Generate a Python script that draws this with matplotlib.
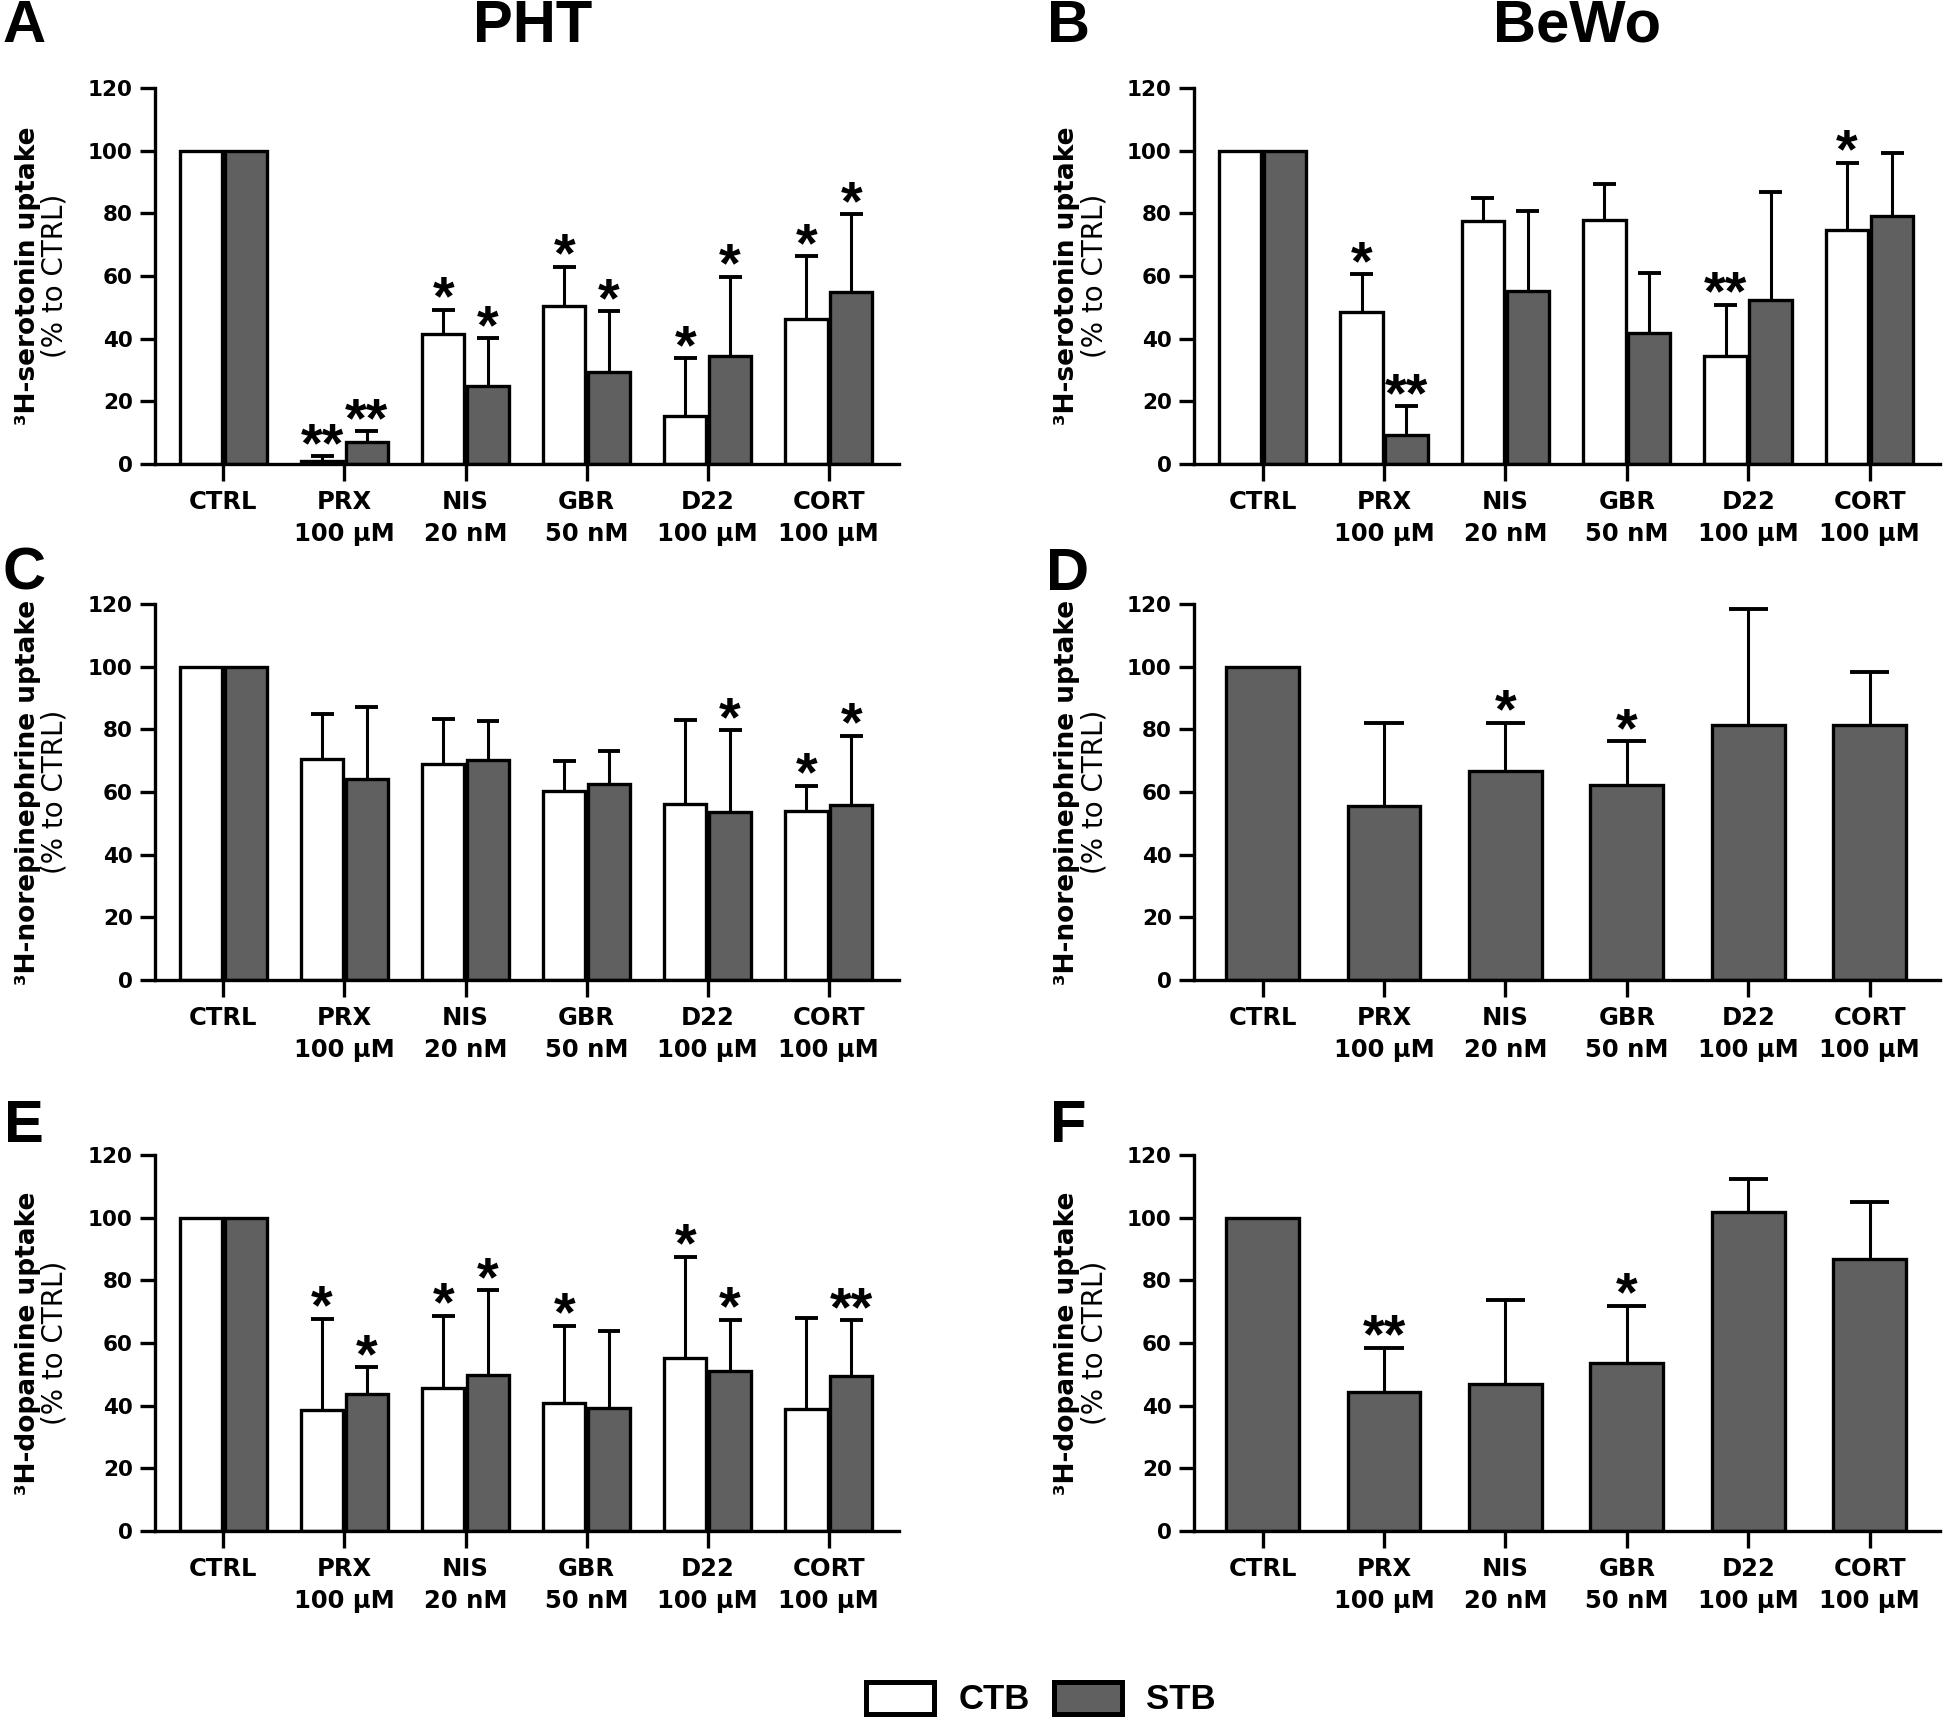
import matplotlib
matplotlib.use("Agg")
import matplotlib.pyplot as plt
import numpy as np
from matplotlib.patches import Patch

plt.rcParams['font.family'] = ['Liberation Sans', 'DejaVu Sans']
plt.rcParams['font.weight'] = 'bold'
WIDE = ['DejaVu Sans']

categories = ['CTRL', 'PRX\n100 µM', 'NIS\n20 nM', 'GBR\n50 nM', 'D22\n100 µM', 'CORT\n100 µM']

# Panel A: PHT, serotonin
a_ctb_mean = [100, 0.8, 41.5, 50.4, 15.4, 46.2]
a_ctb_sd = [0, 1.7, 7.7, 12.6, 18.4, 20.2]
a_ctb_sig = ['', '**', '*', '*', '*', '*']
a_stb_mean = [100, 7.1, 24.8, 29.5, 34.4, 55.0]
a_stb_sd = [0, 3.4, 15.3, 19.2, 25.4, 24.7]
a_stb_sig = ['', '**', '*', '*', '*', '*']

# Panel B: BeWo, serotonin
b_ctb_mean = [100, 48.4, 77.7, 77.8, 34.5, 74.6]
b_ctb_sd = [0, 12.2, 7.2, 11.7, 16.4, 21.6]
b_ctb_sig = ['', '*', '', '', '**', '*']
b_stb_mean = [100, 9.1, 55.3, 41.9, 52.4, 79.2]
b_stb_sd = [0, 9.4, 25.3, 19.0, 34.4, 20.2]
b_stb_sig = ['', '**', '', '', '', '']

# Panel C: PHT, norepinephrine
c_ctb_mean = [100, 70.5, 68.8, 60.3, 56.3, 54.0]
c_ctb_sd = [0, 14.5, 14.5, 9.7, 26.7, 8.0]
c_ctb_sig = ['', '', '', '', '', '*']
c_stb_mean = [100, 64.3, 70.2, 62.4, 53.7, 56.0]
c_stb_sd = [0, 22.7, 12.3, 10.7, 26.0, 22.0]
c_stb_sig = ['', '', '', '', '*', '*']

# Panel D: BeWo, norepinephrine (STB only)
d_stb_mean = [100, 55.4, 66.8, 62.3, 81.4, 81.4]
d_stb_sd = [0, 26.5, 15.3, 13.9, 37.0, 17.0]
d_stb_sig = ['', '', '*', '*', '', '']

# Panel E: PHT, dopamine
e_ctb_mean = [100, 38.5, 45.5, 40.7, 55.3, 38.8]
e_ctb_sd = [0, 29.2, 23.2, 24.8, 32.2, 29.1]
e_ctb_sig = ['', '*', '*', '*', '*', '']
e_stb_mean = [100, 43.7, 49.8, 39.4, 51.2, 49.5]
e_stb_sd = [0, 8.6, 27.0, 24.5, 16.3, 17.8]
e_stb_sig = ['', '*', '*', '', '*', '**']

# Panel F: BeWo, dopamine (STB only)
f_stb_mean = [100, 44.3, 46.9, 53.7, 101.8, 86.8]
f_stb_sd = [0, 14.2, 26.9, 18.2, 10.7, 18.3]
f_stb_sig = ['', '**', '', '*', '', '']

yticks = [0, 20, 40, 60, 80, 100, 120]
CTB_COLOR = 'white'
STB_COLOR = '#606060'

W, H = 1944, 1719
fig = plt.figure(figsize=(W / 100, H / 100), dpi=100)

LW = 2.4
col_left = [155 / W, 1194 / W]
col_width = [(899 - 155) / W, (1940 - 1194) / W]
row_bottom = [1 - 464 / H, 1 - 980 / H, 1 - 1531 / H]
row_height = 376 / H


def draw_panel(ax, series, ylabel):
    x = np.arange(len(categories))
    for means, sds, sig, color, off, w in series:
        xs = x + off
        ax.bar(xs, means, width=w, color=color, edgecolor='black', linewidth=LW, zorder=2)
        cap = w * 0.27
        for xi, m, s, st in zip(xs, means, sds, sig):
            top = m + s
            if s > 0:
                ax.vlines(xi, m, top, color='black', lw=2.2, zorder=1)
                ax.hlines(top, xi - cap, xi + cap, color='black', lw=2.8, zorder=3)
            if st:
                ax.annotate(st, (xi, top), xytext=(0, -3.5), textcoords='offset points',
                            ha='center', va='baseline', fontsize=40, fontweight='bold')
    ax.set_xlim(-0.565, 5.58)
    ax.set_ylim(0, 120)
    ax.set_yticks(yticks)
    ax.set_xticks(x)
    ax.set_xticklabels(categories, fontsize=17.5, fontweight='bold', family=WIDE,
                       linespacing=1.4)
    for lbl in ax.get_yticklabels():
        lbl.set_fontsize(15.5)
        lbl.set_fontweight('bold')
        lbl.set_family(WIDE)
    ax.spines['top'].set_visible(False)
    ax.spines['right'].set_visible(False)
    ax.spines['left'].set_linewidth(LW)
    ax.spines['bottom'].set_linewidth(LW)
    ax.tick_params(axis='y', direction='out', length=11, width=LW, pad=5)
    ax.tick_params(axis='x', direction='out', length=12, width=LW, pad=7)
    wpx = ax.get_position().width * W
    ax.text(-127 / wpx, 0.5, ylabel, transform=ax.transAxes, rotation=90,
            ha='center', va='center', fontsize=19, fontweight='bold', family=WIDE)
    ax.text(-100 / wpx, 0.5, '(% to CTRL)', transform=ax.transAxes, rotation=90,
            ha='center', va='center', fontsize=20, fontweight='normal', family=WIDE)


BW = 0.35
OFF = 0.185
BW1 = 0.6

panels = [
    (0, 0, [(a_ctb_mean, a_ctb_sd, a_ctb_sig, CTB_COLOR, -OFF, BW),
            (a_stb_mean, a_stb_sd, a_stb_sig, STB_COLOR, OFF, BW)], '³H-serotonin uptake'),
    (0, 1, [(b_ctb_mean, b_ctb_sd, b_ctb_sig, CTB_COLOR, -OFF, BW),
            (b_stb_mean, b_stb_sd, b_stb_sig, STB_COLOR, OFF, BW)], '³H-serotonin uptake'),
    (1, 0, [(c_ctb_mean, c_ctb_sd, c_ctb_sig, CTB_COLOR, -OFF, BW),
            (c_stb_mean, c_stb_sd, c_stb_sig, STB_COLOR, OFF, BW)], '³H-norepinephrine uptake'),
    (1, 1, [(d_stb_mean, d_stb_sd, d_stb_sig, STB_COLOR, 0.0, BW1)], '³H-norepinephrine uptake'),
    (2, 0, [(e_ctb_mean, e_ctb_sd, e_ctb_sig, CTB_COLOR, -OFF, BW),
            (e_stb_mean, e_stb_sd, e_stb_sig, STB_COLOR, OFF, BW)], '³H-dopamine uptake'),
    (2, 1, [(f_stb_mean, f_stb_sd, f_stb_sig, STB_COLOR, 0.0, BW1)], '³H-dopamine uptake'),
]

for r, c, series, ylabel in panels:
    ax = fig.add_axes([col_left[c], row_bottom[r], col_width[c], row_height])
    draw_panel(ax, series, ylabel)

# Panel letters and column titles
letters = [('A', 24, 27), ('B', 1068, 27), ('C', 24, 574), ('D', 1068, 574), ('E', 24, 1127), ('F', 1068, 1127)]
for t, px, py in letters:
    fig.text(px / W, 1 - py / H, t, fontsize=43, fontweight='bold', ha='center', va='center')
fig.text(533 / W, 1 - 26 / H, 'PHT', fontsize=43, fontweight='bold', ha='center', va='center')
fig.text(1577 / W, 1 - 26 / H, 'BeWo', fontsize=43, fontweight='bold', ha='center', va='center')

# Legend
handles = [Patch(facecolor=CTB_COLOR, edgecolor='black', linewidth=3.6, label='CTB'),
           Patch(facecolor=STB_COLOR, edgecolor='black', linewidth=3.6, label='STB')]
leg = fig.legend(handles=handles, loc='center', bbox_to_anchor=(1041 / W, 20 / H), ncol=2,
                 frameon=False, fontsize=25, handlelength=1.95, handleheight=1.05,
                 handletextpad=0.7, columnspacing=0.7, borderpad=0.0, borderaxespad=0.0)
for txt in leg.get_texts():
    txt.set_fontweight('bold')

fig.savefig('out.png', dpi=100)
